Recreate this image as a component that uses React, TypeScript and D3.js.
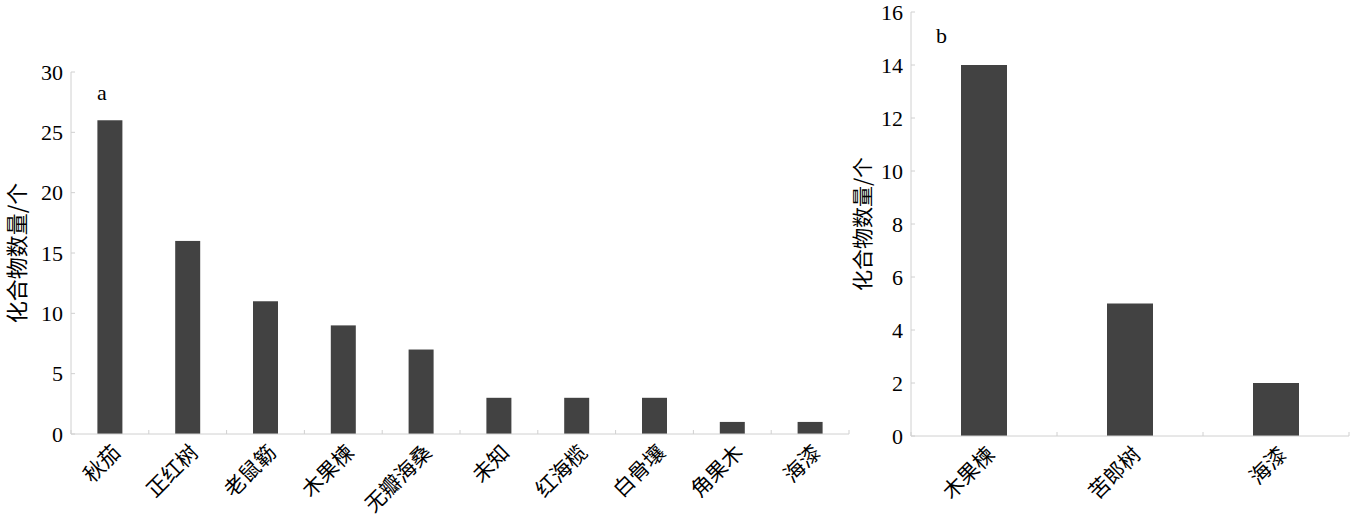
import React from "react";
import * as d3 from "d3";

const catsA = ["秋茄", "正红树", "老鼠簕", "木果楝", "无瓣海桑", "未知", "红海榄", "白骨壤", "角果木", "海漆"];
const valsA = [26, 16, 11, 9, 7, 3, 3, 3, 1, 1];
const ticksA = [0, 5, 10, 15, 20, 25, 30];

const catsB = ["木果楝", "苦郎树", "海漆"];
const valsB = [14, 5, 2];
const ticksB = [0, 2, 4, 6, 8, 10, 12, 14, 16];

const yLabel = "化合物数量/个";

const BAR = "#424242";
const AXIS = "#d0d0d0";
const NUM_FONT = "Liberation Serif, Times New Roman, serif";
const CJK_FONT = "Noto Sans CJK SC, sans-serif";

type PanelProps = {
  cats: string[];
  vals: number[];
  ticks: number[];
  x0: number;
  x1: number;
  yTop: number;
  yBottom: number;
  barW: number;
  letter: string;
  letterX: number;
  letterY: number;
  labelX: number;
  labelSize: number;
};

function Panel(p: PanelProps) {
  const x = d3.scaleBand<string>().domain(p.cats).range([p.x0, p.x1]).padding(0);
  const y = d3
    .scaleLinear()
    .domain([0, d3.max(p.ticks) as number])
    .range([p.yBottom, p.yTop]);
  const bw = x.bandwidth();
  const boundaries = p.cats.map((c) => (x(c) as number) + bw).concat([p.x0]);
  return (
    <g>
      {p.cats.map((c, i) => {
        const cx = (x(c) as number) + bw / 2;
        return (
          <rect
            key={c}
            x={cx - p.barW / 2}
            y={y(p.vals[i])}
            width={p.barW}
            height={y(0) - y(p.vals[i])}
            fill={BAR}
          />
        );
      })}
      <line x1={p.x0} x2={p.x0} y1={p.yTop} y2={p.yBottom} stroke={AXIS} strokeWidth={1} />
      <line x1={p.x0} x2={p.x1} y1={p.yBottom} y2={p.yBottom} stroke={AXIS} strokeWidth={1} />
      {p.ticks.map((t) => (
        <g key={t}>
          <line x1={p.x0} x2={p.x0 + 4} y1={y(t)} y2={y(t)} stroke={AXIS} />
          <text
            x={p.x0 - 8}
            y={y(t)}
            dy="0.35em"
            textAnchor="end"
            fontFamily={NUM_FONT}
            fontSize={22}
            fill="#000"
          >
            {t}
          </text>
        </g>
      ))}
      {boundaries.map((bx, i) => (
        <line key={i} x1={bx} x2={bx} y1={p.yBottom} y2={p.yBottom - 4} stroke={AXIS} />
      ))}
      {p.cats.map((c) => {
        const cx = (x(c) as number) + bw / 2;
        return (
          <text
            key={c}
            transform={`translate(${cx + 12},${p.yBottom + 20}) rotate(-45)`}
            textAnchor="end"
            fontFamily={CJK_FONT}
            fontSize={21}
            fill="#000"
          >
            {c}
          </text>
        );
      })}
      <text
        transform={`translate(${p.labelX},${(p.yTop + p.yBottom) / 2}) rotate(-90)`}
        textAnchor="middle"
        dy="0.35em"
        fontFamily={CJK_FONT}
        fontSize={p.labelSize}
        fill="#000"
      >
        {yLabel}
      </text>
      <text x={p.letterX} y={p.letterY} fontFamily={NUM_FONT} fontSize={22} fill="#000">
        {p.letter}
      </text>
    </g>
  );
}

export default function App() {
  return (
    <svg
      width={1350}
      height={520}
      style={{ position: "absolute", left: 0, top: 0, background: "#fff" }}
    >
      <rect width={1350} height={520} fill="#fff" />
      <Panel
        cats={catsA}
        vals={valsA}
        ticks={ticksA}
        x0={71}
        x1={849}
        yTop={72}
        yBottom={434}
        barW={25}
        letter="a"
        letterX={97}
        letterY={100}
        labelX={17}
        labelSize={22}
      />
      <Panel
        cats={catsB}
        vals={valsB}
        ticks={ticksB}
        x0={911}
        x1={1349}
        yTop={12}
        yBottom={436}
        barW={46}
        letter="b"
        letterX={936}
        letterY={43}
        labelX={863}
        labelSize={21}
      />
    </svg>
  );
}
